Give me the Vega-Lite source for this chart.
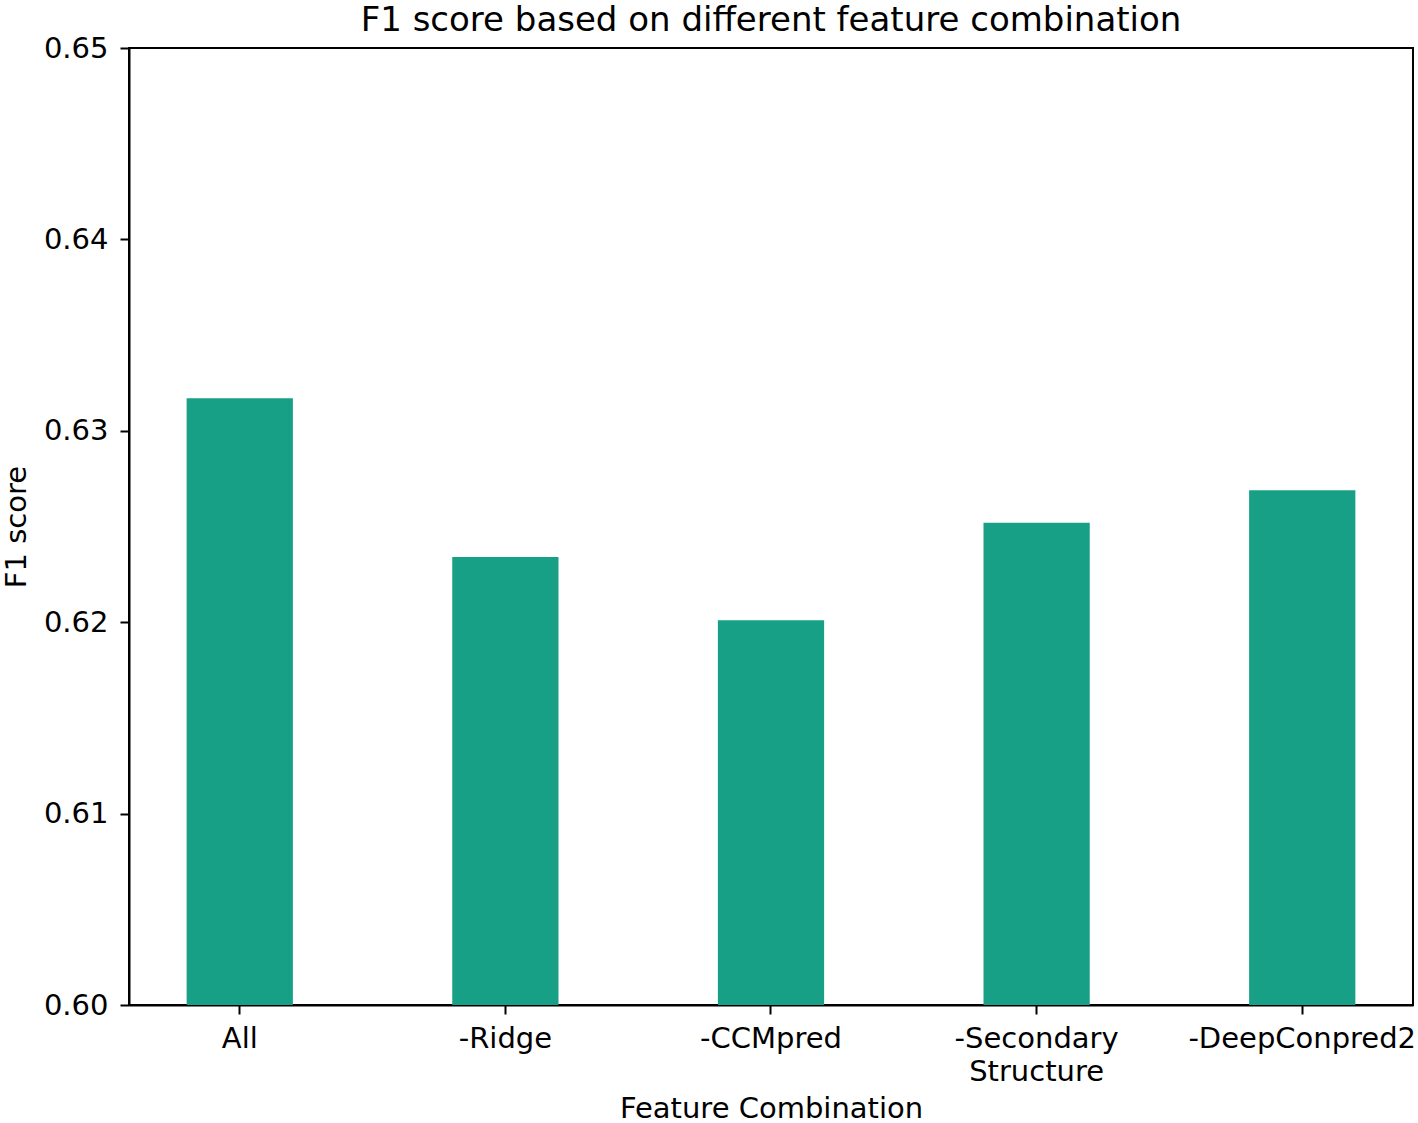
{
  "$schema": "https://vega.github.io/schema/vega-lite/v6.json",
  "autosize": "none",
  "width": 1284,
  "height": 957,
  "padding": {"left": 129, "top": 48, "right": 5, "bottom": 118},
  "background": "white",
  "config": {
    "font": "DejaVu Sans",
    "view": {"stroke": "black", "strokeWidth": 2},
    "axis": {
      "grid": false,
      "domainColor": "black",
      "domainWidth": 2,
      "tickColor": "black",
      "tickWidth": 2,
      "tickSize": 9,
      "labelFont": "DejaVu Sans",
      "labelFontSize": 29,
      "labelColor": "black",
      "labelLimit": 0,
      "titleFont": "DejaVu Sans",
      "titleFontSize": 29,
      "titleFontWeight": "normal",
      "titleColor": "black"
    }
  },
  "title": {
    "text": "F1 score based on different feature combination",
    "font": "DejaVu Sans",
    "fontSize": 34,
    "fontWeight": "normal",
    "color": "black",
    "offset": -4
  },
  "data": {
    "values": [
      {"combo": "All", "f1": 0.6317},
      {"combo": "-Ridge", "f1": 0.6234},
      {"combo": "-CCMpred", "f1": 0.6201},
      {"combo": "-Secondary Structure", "f1": 0.6252},
      {"combo": "-DeepConpred2", "f1": 0.6269}
    ]
  },
  "mark": {"type": "bar", "color": "#17a086", "clip": true},
  "encoding": {
    "x": {
      "field": "combo",
      "type": "nominal",
      "sort": null,
      "scale": {"paddingInner": 0.6, "paddingOuter": 0.217},
      "axis": {
        "title": "Feature Combination",
        "labelAngle": 0,
        "labelPadding": 10,
        "labelLineHeight": 33,
        "labelExpr": "split(datum.label, ' ')",
        "titlePadding": 8
      }
    },
    "y": {
      "field": "f1",
      "type": "quantitative",
      "scale": {"domain": [0.6, 0.65], "zero": false, "nice": false},
      "axis": {
        "title": "F1 score",
        "values": [0.6, 0.61, 0.62, 0.63, 0.64, 0.65],
        "format": ".2f",
        "labelPadding": 12,
        "titlePadding": 12
      }
    }
  }
}
